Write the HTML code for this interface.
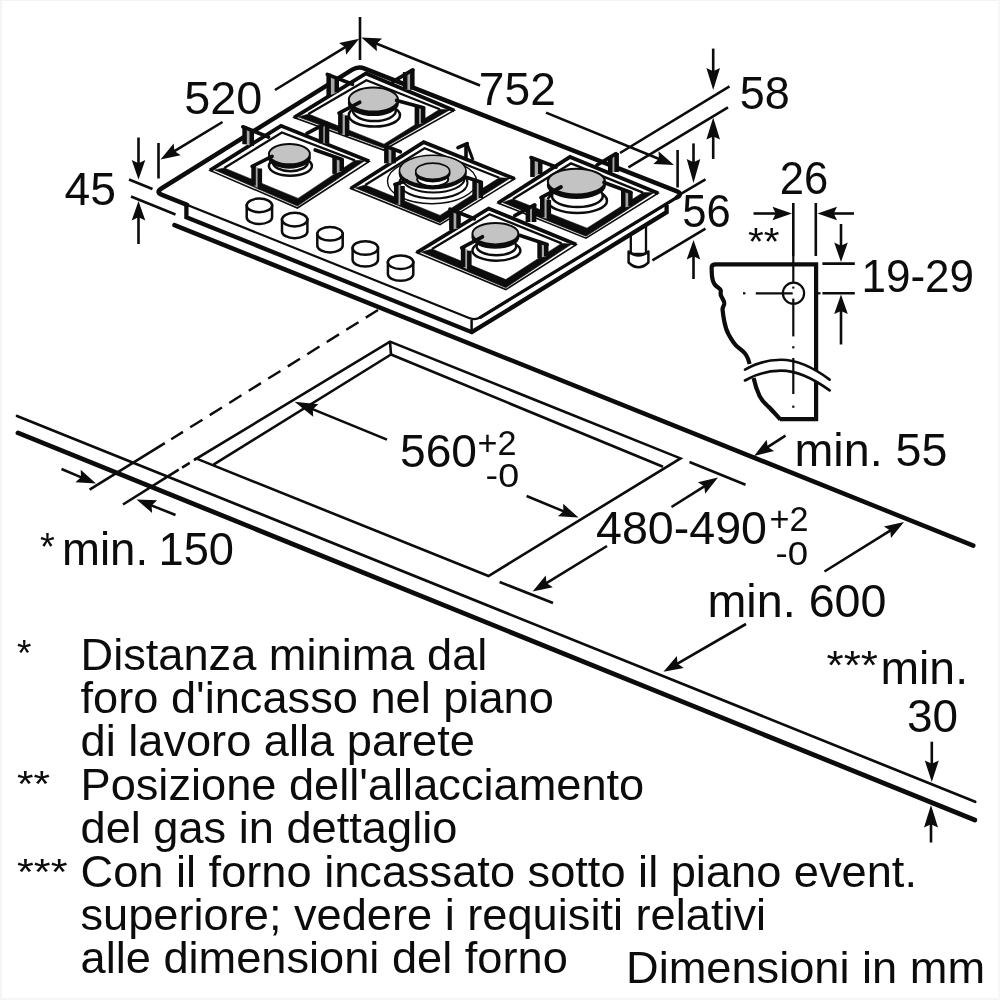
<!DOCTYPE html>
<html><head><meta charset="utf-8"><title>Hob installation diagram</title>
<style>
html,body{margin:0;padding:0;background:#fff;}
body{width:1000px;height:1000px;overflow:hidden;font-family:"Liberation Sans",sans-serif;}
svg{display:block;filter:grayscale(1) blur(0.4px)}
text{font-family:"Liberation Sans",sans-serif;fill:#0c0c0c;}
</style></head><body>
<svg width="1000" height="1000" viewBox="0 0 1000 1000">
<rect width="1000" height="1000" fill="#fff"/>
<rect x="0" y="0" width="2" height="1000" fill="#f5f5f5"/><rect x="0" y="0" width="1000" height="1" fill="#f4f4f4"/><rect x="0" y="998" width="1000" height="2" fill="#f5f5f5"/><rect x="998" y="0" width="2" height="1000" fill="#f8f8f8"/>
<line x1="174.5" y1="225.2" x2="973.3" y2="545.6" stroke="#0c0c0c" stroke-width="4.5" stroke-linecap="round" />
<line x1="17.0" y1="415.9" x2="975.2" y2="801.8" stroke="#0c0c0c" stroke-width="2.7" stroke-linecap="round" />
<line x1="18.0" y1="432.9" x2="974.8" y2="820.0" stroke="#0c0c0c" stroke-width="4.8" stroke-linecap="round" />
<path d="M390.0,341.6 L680.5,458.4 L488.5,576.0 L196.5,458.6 Z" fill="none" stroke="#0c0c0c" stroke-width="2.6" stroke-linejoin="miter" stroke-linecap="butt" />
<line x1="390.0" y1="341.6" x2="391.0" y2="354.5" stroke="#0c0c0c" stroke-width="2.6" stroke-linecap="butt" />
<line x1="391.0" y1="354.5" x2="213.5" y2="464.6" stroke="#0c0c0c" stroke-width="2.6" stroke-linecap="butt" />
<line x1="391.0" y1="354.5" x2="663.0" y2="466.8" stroke="#0c0c0c" stroke-width="2.6" stroke-linecap="butt" />
<line x1="378.0" y1="310.0" x2="171.2" y2="439.2" stroke="#0c0c0c" stroke-width="2.4" stroke-linecap="butt" stroke-dasharray="14.4 8.6"/>
<line x1="164.8" y1="443.2" x2="89.6" y2="489.6" stroke="#0c0c0c" stroke-width="2.6" stroke-linecap="butt" />
<line x1="196.5" y1="458.6" x2="123.0" y2="504.5" stroke="#0c0c0c" stroke-width="2.6" stroke-linecap="butt" stroke-dasharray="3 5 9 4 200"/>
<path d="M630.8,222 L630.8,254 L646,254 L646,222" fill="white" stroke="#0c0c0c" stroke-width="2.3"/>
<path d="M628.6,251.5 L628.6,262.5 Q638.5,272 648.4,262.5 L648.4,251.5 Q638.5,259.5 628.6,251.5 Z" fill="white" stroke="#0c0c0c" stroke-width="2.5" stroke-linejoin="round"/>
<path d="M186.4,204.0 L186.4,217.2 L471.8,332.2 L666.6,212.2 L666.6,205.0" fill="white" stroke="#0c0c0c" stroke-width="4.3" stroke-linejoin="miter" stroke-linecap="butt" />
<path d="M353.1,69.2 Q358.2,66.0 363.8,68.2 L677.4,191.6 Q683.0,193.8 677.9,196.9 L480.4,317.3 Q475.3,320.4 469.7,318.2 L161.1,194.4 Q155.5,192.2 160.6,189.0 Z" fill="white" stroke="#0c0c0c" stroke-width="2.2"/>
<path d="M677.0,197.4 L480.4,317.3" fill="none" stroke="#0c0c0c" stroke-width="3.3" stroke-linecap="round"/>
<path d="M187.1,204.9 L162.0,194.8 Q155.5,192.2 161.4,188.5 L352.3,69.7 Q358.2,66.0 364.7,68.6 L676.5,191.2 Q683,193.8 677.0,197.4" fill="none" stroke="#0c0c0c" stroke-width="4.5" stroke-linecap="round" stroke-linejoin="round"/>
<line x1="471.6" y1="320.0" x2="471.6" y2="332.0" stroke="#0c0c0c" stroke-width="2.5" stroke-linecap="butt" />
<path d="M294.0,117.6 L366.0,73.5 L454.2,110.4 L383.5,150.0 Z" fill="white" stroke="#0c0c0c" stroke-width="1.6" stroke-linejoin="miter" stroke-linecap="butt" />
<path d="M294.0,117.6 L366.0,73.5 L454.2,110.4" fill="none" stroke="#0c0c0c" stroke-width="3.8" stroke-linejoin="miter" stroke-linecap="butt" />
<path d="M308.4,114.0 L366.4,80.3 L439.8,109.2 L384.0,144.2 Z" fill="white" stroke="#0c0c0c" stroke-width="0.1" stroke-linejoin="miter" stroke-linecap="butt" />
<path d="M298.6,117.1 L383.5,148.1 L449.6,109.9 L439.8,109.2 L384.0,144.2 L308.4,114.0 Z" fill="#0c0c0c" stroke="#0c0c0c" stroke-width="0.6" stroke-linejoin="miter"/>
<path d="M308.4,114.0 L366.4,80.3 L439.8,109.2" fill="none" stroke="#0c0c0c" stroke-width="2.3" stroke-linejoin="miter" stroke-linecap="butt" />
<path d="M328.6,73.5 L336.8,77.0 L336.8,92.4 L328.6,96.0 Z" fill="#a8a8a8"/>
<rect x="326.4" y="73.5" width="4.5" height="22.5" fill="#0c0c0c"/>
<rect x="334.5" y="77.0" width="4.5" height="15.4" fill="#0c0c0c"/>
<line x1="327.3" y1="74.4" x2="352.5" y2="84.3" stroke="#0c0c0c" stroke-width="3.7" stroke-linecap="round" />
<path d="M405.1,72.0 L412.4,69.0 L412.4,89.7 L405.1,89.7 Z" fill="#a8a8a8"/>
<rect x="402.9" y="72.0" width="4.5" height="17.7" fill="#0c0c0c"/>
<rect x="410.1" y="69.0" width="4.5" height="20.7" fill="#0c0c0c"/>
<line x1="412.8" y1="69.9" x2="393.0" y2="81.6" stroke="#0c0c0c" stroke-width="3.7" stroke-linecap="round" />
<ellipse cx="374.4" cy="115.2" rx="25.599999999999998" ry="11.4" fill="white" stroke="#0c0c0c" stroke-width="2.5"/>
<ellipse cx="374.4" cy="110.8" rx="21.4" ry="10.2" fill="white" stroke="#0c0c0c" stroke-width="2.5"/>
<ellipse cx="373.4" cy="103.0" rx="24.599999999999998" ry="12.0" fill="#0c0c0c" stroke="#0c0c0c" stroke-width="2"/>
<ellipse cx="373.4" cy="99.6" rx="24.599999999999998" ry="12.0" fill="#c3c3c3" stroke="#0c0c0c" stroke-width="2"/>
<path d="M340.4,113.1 L347.1,115.5 L347.1,136.0 L340.4,133.8 Z" fill="#a8a8a8"/>
<rect x="338.1" y="113.1" width="4.5" height="20.7" fill="#0c0c0c"/>
<rect x="344.9" y="115.5" width="4.5" height="20.5" fill="#0c0c0c"/>
<line x1="339.0" y1="113.1" x2="359.7" y2="102.3" stroke="#0c0c0c" stroke-width="3.7" stroke-linecap="round" />
<path d="M416.9,105.0 L423.1,107.7 L423.1,123.0 L416.9,124.8 Z" fill="#a8a8a8"/>
<rect x="414.6" y="105.0" width="4.5" height="19.8" fill="#0c0c0c"/>
<rect x="420.9" y="107.7" width="4.5" height="15.3" fill="#0c0c0c"/>
<line x1="423.6" y1="107.7" x2="396.6" y2="100.5" stroke="#0c0c0c" stroke-width="3.7" stroke-linecap="round" />
<path d="M210.0,170.4 L281.0,125.8 L369.2,161.3 L297.4,208.0 Z" fill="white" stroke="#0c0c0c" stroke-width="1.6" stroke-linejoin="miter" stroke-linecap="butt" />
<path d="M210.0,170.4 L281.0,125.8 L369.2,161.3" fill="none" stroke="#0c0c0c" stroke-width="3.8" stroke-linejoin="miter" stroke-linecap="butt" />
<path d="M224.3,168.0 L281.9,132.5 L354.8,160.4 L298.1,198.4 Z" fill="white" stroke="#0c0c0c" stroke-width="0.1" stroke-linejoin="miter" stroke-linecap="butt" />
<path d="M214.6,169.9 L297.4,206.1 L364.6,160.8 L354.8,160.4 L298.1,198.4 L224.3,168.0 Z" fill="#0c0c0c" stroke="#0c0c0c" stroke-width="0.6" stroke-linejoin="miter"/>
<path d="M224.3,168.0 L281.9,132.5 L354.8,160.4" fill="none" stroke="#0c0c0c" stroke-width="2.3" stroke-linejoin="miter" stroke-linecap="butt" />
<path d="M244.6,126.2 L251.8,130.0 L251.8,146.0 L244.6,144.2 Z" fill="#a8a8a8"/>
<rect x="242.3" y="126.2" width="4.5" height="18.0" fill="#0c0c0c"/>
<rect x="249.5" y="130.0" width="4.5" height="16.0" fill="#0c0c0c"/>
<line x1="242.9" y1="126.8" x2="268.4" y2="137.0" stroke="#0c0c0c" stroke-width="3.7" stroke-linecap="round" />
<path d="M321.1,126.0 L327.1,122.6 L327.1,143.3 L321.1,143.3 Z" fill="#a8a8a8"/>
<rect x="318.8" y="126.0" width="4.5" height="17.3" fill="#0c0c0c"/>
<rect x="324.8" y="122.6" width="4.5" height="20.7" fill="#0c0c0c"/>
<line x1="326.4" y1="123.2" x2="307.0" y2="133.4" stroke="#0c0c0c" stroke-width="3.7" stroke-linecap="round" />
<ellipse cx="290.4" cy="166.0" rx="21.5" ry="9.7" fill="white" stroke="#0c0c0c" stroke-width="2.5"/>
<ellipse cx="290.4" cy="162.5" rx="17.3" ry="8.7" fill="white" stroke="#0c0c0c" stroke-width="2.5"/>
<ellipse cx="289.4" cy="157.5" rx="20.5" ry="10.200000000000001" fill="#0c0c0c" stroke="#0c0c0c" stroke-width="2"/>
<ellipse cx="289.4" cy="154.1" rx="20.5" ry="10.200000000000001" fill="#c3c3c3" stroke="#0c0c0c" stroke-width="2"/>
<path d="M253.6,165.8 L259.9,168.5 L259.9,189.2 L253.6,185.6 Z" fill="#a8a8a8"/>
<rect x="251.3" y="165.8" width="4.5" height="19.8" fill="#0c0c0c"/>
<rect x="257.6" y="168.5" width="4.5" height="20.7" fill="#0c0c0c"/>
<line x1="252.2" y1="166.4" x2="272.0" y2="156.4" stroke="#0c0c0c" stroke-width="3.7" stroke-linecap="round" />
<path d="M334.6,155.9 L341.8,159.5 L341.8,171.2 L334.6,173.9 Z" fill="#a8a8a8"/>
<rect x="332.3" y="155.9" width="4.5" height="18.0" fill="#0c0c0c"/>
<rect x="339.5" y="159.5" width="4.5" height="11.7" fill="#0c0c0c"/>
<line x1="342.2" y1="159.5" x2="315.2" y2="150.0" stroke="#0c0c0c" stroke-width="3.7" stroke-linecap="round" />
<path d="M498.0,203.0 L570.0,157.0 L658.2,193.2 L586.0,238.2 Z" fill="white" stroke="#0c0c0c" stroke-width="1.6" stroke-linejoin="miter" stroke-linecap="butt" />
<path d="M498.0,203.0 L570.0,157.0 L658.2,193.2" fill="none" stroke="#0c0c0c" stroke-width="3.8" stroke-linejoin="miter" stroke-linecap="butt" />
<path d="M513.0,199.0 L571.0,163.4 L643.0,192.6 L587.0,228.2 Z" fill="white" stroke="#0c0c0c" stroke-width="0.1" stroke-linejoin="miter" stroke-linecap="butt" />
<path d="M502.6,202.5 L586.0,236.3 L653.6,192.7 L643.0,192.6 L587.0,228.2 L513.0,199.0 Z" fill="#0c0c0c" stroke="#0c0c0c" stroke-width="0.6" stroke-linejoin="miter"/>
<path d="M513.0,199.0 L571.0,163.4 L643.0,192.6" fill="none" stroke="#0c0c0c" stroke-width="2.3" stroke-linejoin="miter" stroke-linecap="butt" />
<path d="M532.5,157.0 L540.2,160.5 L540.2,174.0 L532.5,177.0 Z" fill="#a8a8a8"/>
<rect x="530.2" y="157.0" width="4.5" height="20.0" fill="#0c0c0c"/>
<rect x="538.0" y="160.5" width="4.5" height="13.5" fill="#0c0c0c"/>
<line x1="531.0" y1="157.6" x2="556.0" y2="167.0" stroke="#0c0c0c" stroke-width="3.7" stroke-linecap="round" />
<path d="M610.2,156.0 L616.6,153.0 L616.6,172.0 L610.2,172.0 Z" fill="#a8a8a8"/>
<rect x="608.0" y="156.0" width="4.5" height="16.0" fill="#0c0c0c"/>
<rect x="614.4" y="153.0" width="4.5" height="19.0" fill="#0c0c0c"/>
<line x1="616.0" y1="153.6" x2="597.0" y2="165.0" stroke="#0c0c0c" stroke-width="3.7" stroke-linecap="round" />
<ellipse cx="577.4" cy="200.7" rx="29.599999999999998" ry="12.3" fill="white" stroke="#0c0c0c" stroke-width="2.5"/>
<ellipse cx="577.4" cy="196.0" rx="25.4" ry="11.0" fill="white" stroke="#0c0c0c" stroke-width="2.5"/>
<ellipse cx="576.4" cy="185.0" rx="28.599999999999998" ry="12.9" fill="#0c0c0c" stroke="#0c0c0c" stroke-width="2"/>
<ellipse cx="576.4" cy="181.6" rx="28.599999999999998" ry="12.9" fill="#c3c3c3" stroke="#0c0c0c" stroke-width="2"/>
<path d="M542.2,197.0 L548.9,200.0 L548.9,220.0 L542.2,217.0 Z" fill="#a8a8a8"/>
<rect x="540.0" y="197.0" width="4.5" height="20.0" fill="#0c0c0c"/>
<rect x="546.6" y="200.0" width="4.5" height="20.0" fill="#0c0c0c"/>
<line x1="541.0" y1="197.6" x2="561.0" y2="187.0" stroke="#0c0c0c" stroke-width="3.7" stroke-linecap="round" />
<path d="M623.2,189.0 L630.5,192.0 L630.5,206.0 L623.2,208.0 Z" fill="#a8a8a8"/>
<rect x="621.0" y="189.0" width="4.5" height="19.0" fill="#0c0c0c"/>
<rect x="628.2" y="192.0" width="4.5" height="14.0" fill="#0c0c0c"/>
<line x1="631.0" y1="192.4" x2="604.0" y2="182.4" stroke="#0c0c0c" stroke-width="3.7" stroke-linecap="round" />
<path d="M350.8,188.5 L423.7,142.2 L514.6,178.8 L440.0,224.6 Z" fill="white" stroke="#0c0c0c" stroke-width="1.6" stroke-linejoin="miter" stroke-linecap="butt" />
<path d="M350.8,188.5 L423.7,142.2 L514.6,178.8" fill="none" stroke="#0c0c0c" stroke-width="3.8" stroke-linejoin="miter" stroke-linecap="butt" />
<path d="M365.2,185.0 L424.6,148.2 L499.3,177.8 L440.0,215.4 Z" fill="white" stroke="#0c0c0c" stroke-width="0.1" stroke-linejoin="miter" stroke-linecap="butt" />
<path d="M355.4,188.0 L440.0,222.7 L510.0,178.3 L499.3,177.8 L440.0,215.4 L365.2,185.0 Z" fill="#0c0c0c" stroke="#0c0c0c" stroke-width="0.6" stroke-linejoin="miter"/>
<path d="M365.2,185.0 L424.6,148.2 L499.3,177.8" fill="none" stroke="#0c0c0c" stroke-width="2.3" stroke-linejoin="miter" stroke-linecap="butt" />
<path d="M386.4,145.3 L393.6,148.5 L393.6,163.3 L386.4,163.3 Z" fill="#a8a8a8"/>
<rect x="384.1" y="145.3" width="4.5" height="18.0" fill="#0c0c0c"/>
<rect x="391.3" y="148.5" width="4.5" height="14.8" fill="#0c0c0c"/>
<line x1="385.9" y1="146.2" x2="400.3" y2="151.8" stroke="#0c0c0c" stroke-width="3.7" stroke-linecap="round" />
<line x1="466.0" y1="143.8" x2="466.0" y2="159.5" stroke="#0c0c0c" stroke-width="3.6" stroke-linecap="butt" />
<line x1="467.2" y1="144.4" x2="473.0" y2="160.0" stroke="#0c0c0c" stroke-width="3.0" stroke-linecap="butt" />
<line x1="458.0" y1="147.6" x2="467.2" y2="143.6" stroke="#0c0c0c" stroke-width="3.7" stroke-linecap="round" />
<ellipse cx="432" cy="181.3" rx="44.5" ry="22.5" fill="white" stroke="#0c0c0c" stroke-width="1.4"/>
<ellipse cx="433.5" cy="183" rx="34" ry="15.6" fill="white" stroke="#0c0c0c" stroke-width="2"/>
<ellipse cx="433.5" cy="178.5" rx="31" ry="14" fill="white" stroke="#0c0c0c" stroke-width="2"/>
<ellipse cx="432.7" cy="173.3" rx="33.3" ry="15.3" fill="#0c0c0c" stroke="#0c0c0c" stroke-width="1.6"/>
<ellipse cx="432.7" cy="170.5" rx="33.3" ry="15.3" fill="#c3c3c3" stroke="#0c0c0c" stroke-width="1.6"/>
<ellipse cx="432.7" cy="179.2" rx="15.5" ry="7" fill="white" stroke="#0c0c0c" stroke-width="2"/>
<ellipse cx="432.7" cy="173.6" rx="17" ry="8.1" fill="#0c0c0c" stroke="#0c0c0c" stroke-width="1.6"/>
<ellipse cx="432.7" cy="171.2" rx="17" ry="8.1" fill="#c3c3c3" stroke="#0c0c0c" stroke-width="1.6"/>
<path d="M396.2,184.0 L402.6,186.0 L402.6,206.0 L396.2,203.8 Z" fill="#a8a8a8"/>
<rect x="394.0" y="184.0" width="4.5" height="19.8" fill="#0c0c0c"/>
<rect x="400.3" y="186.0" width="4.5" height="20.0" fill="#0c0c0c"/>
<line x1="394.9" y1="184.4" x2="406.6" y2="180.8" stroke="#0c0c0c" stroke-width="3.7" stroke-linecap="round" />
<path d="M474.6,179.5 L480.9,182.2 L480.9,198.0 L474.6,200.2 Z" fill="#a8a8a8"/>
<rect x="472.3" y="179.5" width="4.5" height="20.7" fill="#0c0c0c"/>
<rect x="478.6" y="182.2" width="4.5" height="15.8" fill="#0c0c0c"/>
<line x1="481.3" y1="182.2" x2="466.0" y2="177.2" stroke="#0c0c0c" stroke-width="3.7" stroke-linecap="round" />
<path d="M416.7,252.6 L488.7,208.5 L576.2,244.6 L505.8,289.6 Z" fill="white" stroke="#0c0c0c" stroke-width="1.6" stroke-linejoin="miter" stroke-linecap="butt" />
<path d="M416.7,252.6 L488.7,208.5 L576.2,244.6" fill="none" stroke="#0c0c0c" stroke-width="3.8" stroke-linejoin="miter" stroke-linecap="butt" />
<path d="M432.0,249.0 L489.6,214.2 L561.6,243.4 L505.8,279.6 Z" fill="white" stroke="#0c0c0c" stroke-width="0.1" stroke-linejoin="miter" stroke-linecap="butt" />
<path d="M421.3,252.1 L505.8,287.7 L571.6,244.1 L561.6,243.4 L505.8,279.6 L432.0,249.0 Z" fill="#0c0c0c" stroke="#0c0c0c" stroke-width="0.6" stroke-linejoin="miter"/>
<path d="M432.0,249.0 L489.6,214.2 L561.6,243.4" fill="none" stroke="#0c0c0c" stroke-width="2.3" stroke-linejoin="miter" stroke-linecap="butt" />
<path d="M451.4,208.5 L458.6,212.0 L458.6,228.0 L451.4,230.1 Z" fill="#a8a8a8"/>
<rect x="449.1" y="208.5" width="4.5" height="21.6" fill="#0c0c0c"/>
<rect x="456.3" y="212.0" width="4.5" height="16.0" fill="#0c0c0c"/>
<line x1="450.0" y1="209.2" x2="474.3" y2="218.8" stroke="#0c0c0c" stroke-width="3.7" stroke-linecap="round" />
<path d="M527.9,207.0 L534.1,204.0 L534.1,222.0 L527.9,222.0 Z" fill="#a8a8a8"/>
<rect x="525.6" y="207.0" width="4.5" height="15.0" fill="#0c0c0c"/>
<rect x="531.9" y="204.0" width="4.5" height="18.0" fill="#0c0c0c"/>
<line x1="534.6" y1="204.9" x2="514.8" y2="215.7" stroke="#0c0c0c" stroke-width="3.7" stroke-linecap="round" />
<ellipse cx="496.4" cy="250.5" rx="24.0" ry="10.2" fill="white" stroke="#0c0c0c" stroke-width="2.5"/>
<ellipse cx="496.4" cy="246.2" rx="19.8" ry="9.1" fill="white" stroke="#0c0c0c" stroke-width="2.5"/>
<ellipse cx="495.4" cy="237.1" rx="23.0" ry="10.700000000000001" fill="#0c0c0c" stroke="#0c0c0c" stroke-width="2"/>
<ellipse cx="495.4" cy="233.7" rx="23.0" ry="10.700000000000001" fill="#c3c3c3" stroke="#0c0c0c" stroke-width="2"/>
<path d="M463.1,247.2 L469.4,250.8 L469.4,270.6 L463.1,267.0 Z" fill="#a8a8a8"/>
<rect x="460.8" y="247.2" width="4.5" height="19.8" fill="#0c0c0c"/>
<rect x="467.1" y="250.8" width="4.5" height="19.8" fill="#0c0c0c"/>
<line x1="461.7" y1="247.8" x2="482.4" y2="236.8" stroke="#0c0c0c" stroke-width="3.7" stroke-linecap="round" />
<path d="M539.5,240.9 L546.2,244.5 L546.2,256.2 L539.5,258.0 Z" fill="#a8a8a8"/>
<rect x="537.3" y="240.9" width="4.5" height="17.1" fill="#0c0c0c"/>
<rect x="544.0" y="244.5" width="4.5" height="11.7" fill="#0c0c0c"/>
<line x1="547.2" y1="244.5" x2="520.2" y2="235.5" stroke="#0c0c0c" stroke-width="3.7" stroke-linecap="round" />
<path d="M246.7,205.4 L246.7,217.20000000000002 A12.7,6.8 0 0 0 272.09999999999997,217.20000000000002 L272.09999999999997,205.4 Z" fill="white" stroke="#0c0c0c" stroke-width="2.5"/>
<ellipse cx="259.4" cy="205.4" rx="12.7" ry="6.8" fill="white" stroke="#0c0c0c" stroke-width="2.5"/>
<path d="M282.0,219.6 L282.0,231.4 A12.7,6.8 0 0 0 307.4,231.4 L307.4,219.6 Z" fill="white" stroke="#0c0c0c" stroke-width="2.5"/>
<ellipse cx="294.7" cy="219.6" rx="12.7" ry="6.8" fill="white" stroke="#0c0c0c" stroke-width="2.5"/>
<path d="M317.3,233.8 L317.3,245.60000000000002 A12.7,6.8 0 0 0 342.7,245.60000000000002 L342.7,233.8 Z" fill="white" stroke="#0c0c0c" stroke-width="2.5"/>
<ellipse cx="330.0" cy="233.8" rx="12.7" ry="6.8" fill="white" stroke="#0c0c0c" stroke-width="2.5"/>
<path d="M352.59999999999997,248.0 L352.59999999999997,259.8 A12.7,6.8 0 0 0 377.99999999999994,259.8 L377.99999999999994,248.0 Z" fill="white" stroke="#0c0c0c" stroke-width="2.5"/>
<ellipse cx="365.29999999999995" cy="248.0" rx="12.7" ry="6.8" fill="white" stroke="#0c0c0c" stroke-width="2.5"/>
<path d="M387.9,262.2 L387.9,274.0 A12.7,6.8 0 0 0 413.29999999999995,274.0 L413.29999999999995,262.2 Z" fill="white" stroke="#0c0c0c" stroke-width="2.5"/>
<ellipse cx="400.59999999999997" cy="262.2" rx="12.7" ry="6.8" fill="white" stroke="#0c0c0c" stroke-width="2.5"/>
<line x1="138.5" y1="137.5" x2="138.5" y2="164.2" stroke="#0c0c0c" stroke-width="2.6" stroke-linecap="butt" />
<path d="M138.5,179.5 L131.7,160.0 L138.5,163.2 L145.3,160.0 Z" fill="#0c0c0c"/>
<line x1="138.5" y1="244.0" x2="138.5" y2="216.3" stroke="#0c0c0c" stroke-width="2.6" stroke-linecap="butt" />
<path d="M138.5,201.0 L145.3,220.5 L138.5,217.3 L131.7,220.5 Z" fill="#0c0c0c"/>
<line x1="129.0" y1="179.5" x2="152.5" y2="189.0" stroke="#0c0c0c" stroke-width="2.6" stroke-linecap="butt" />
<line x1="131.0" y1="196.5" x2="175.5" y2="214.5" stroke="#0c0c0c" stroke-width="2.6" stroke-linecap="butt" />
<line x1="158.5" y1="143.0" x2="158.5" y2="178.5" stroke="#0c0c0c" stroke-width="2.6" stroke-linecap="butt" />
<line x1="222.5" y1="122.0" x2="173.6" y2="151.6" stroke="#0c0c0c" stroke-width="2.6" stroke-linecap="butt" />
<path d="M160.5,159.5 L173.7,143.6 L174.4,151.1 L180.7,155.2 Z" fill="#0c0c0c"/>
<line x1="275.0" y1="90.0" x2="346.1" y2="46.7" stroke="#0c0c0c" stroke-width="2.6" stroke-linecap="butt" />
<path d="M359.2,38.8 L346.1,54.7 L345.3,47.3 L339.0,43.1 Z" fill="#0c0c0c"/>
<line x1="360.0" y1="17.0" x2="360.0" y2="60.0" stroke="#0c0c0c" stroke-width="2.6" stroke-linecap="butt" />
<line x1="480.0" y1="85.5" x2="375.6" y2="43.3" stroke="#0c0c0c" stroke-width="2.6" stroke-linecap="butt" />
<path d="M361.4,37.6 L382.0,38.6 L376.5,43.7 L376.9,51.2 Z" fill="#0c0c0c"/>
<line x1="546.0" y1="112.6" x2="659.8" y2="159.2" stroke="#0c0c0c" stroke-width="2.6" stroke-linecap="butt" />
<path d="M674.0,165.0 L653.4,163.9 L658.9,158.8 L658.5,151.3 Z" fill="#0c0c0c"/>
<line x1="677.6" y1="150.0" x2="677.6" y2="187.5" stroke="#0c0c0c" stroke-width="2.6" stroke-linecap="butt" />
<line x1="713.2" y1="48.6" x2="713.2" y2="72.2" stroke="#0c0c0c" stroke-width="2.6" stroke-linecap="butt" />
<path d="M713.2,90.0 L706.4,68.0 L713.2,71.2 L720.0,68.0 Z" fill="#0c0c0c"/>
<line x1="713.2" y1="159.0" x2="713.2" y2="135.4" stroke="#0c0c0c" stroke-width="2.6" stroke-linecap="butt" />
<path d="M713.2,117.6 L720.0,139.6 L713.2,136.4 L706.4,139.6 Z" fill="#0c0c0c"/>
<line x1="620.0" y1="153.0" x2="729.5" y2="86.4" stroke="#0c0c0c" stroke-width="2.6" stroke-linecap="butt" />
<line x1="628.4" y1="167.4" x2="728.0" y2="107.4" stroke="#0c0c0c" stroke-width="2.6" stroke-linecap="butt" />
<line x1="693.5" y1="143.4" x2="693.5" y2="163.2" stroke="#0c0c0c" stroke-width="2.6" stroke-linecap="butt" />
<path d="M693.5,183.0 L686.7,159.0 L693.5,162.2 L700.3,159.0 Z" fill="#0c0c0c"/>
<line x1="693.5" y1="279.0" x2="693.5" y2="255.3" stroke="#0c0c0c" stroke-width="2.6" stroke-linecap="butt" />
<path d="M693.5,240.0 L700.3,259.5 L693.5,256.3 L686.7,259.5 Z" fill="#0c0c0c"/>
<line x1="680.0" y1="194.4" x2="705.5" y2="179.4" stroke="#0c0c0c" stroke-width="2.6" stroke-linecap="butt" />
<line x1="652.4" y1="260.4" x2="705.5" y2="228.6" stroke="#0c0c0c" stroke-width="2.6" stroke-linecap="butt" />
<line x1="387.0" y1="439.6" x2="311.9" y2="408.9" stroke="#0c0c0c" stroke-width="2.6" stroke-linecap="butt" />
<path d="M294.5,401.8 L318.4,404.2 L312.8,409.3 L313.2,416.8 Z" fill="#0c0c0c"/>
<line x1="526.6" y1="496.0" x2="564.4" y2="511.6" stroke="#0c0c0c" stroke-width="2.6" stroke-linecap="butt" />
<path d="M578.5,517.5 L557.9,516.3 L563.4,511.3 L563.1,503.8 Z" fill="#0c0c0c"/>
<line x1="689.5" y1="462.0" x2="745.5" y2="484.8" stroke="#0c0c0c" stroke-width="2.6" stroke-linecap="butt" />
<line x1="499.6" y1="582.0" x2="553.0" y2="603.0" stroke="#0c0c0c" stroke-width="2.6" stroke-linecap="butt" />
<line x1="671.5" y1="507.0" x2="705.1" y2="485.8" stroke="#0c0c0c" stroke-width="2.6" stroke-linecap="butt" />
<path d="M718.0,477.6 L705.2,493.8 L704.2,486.3 L697.9,482.3 Z" fill="#0c0c0c"/>
<line x1="607.0" y1="546.0" x2="545.6" y2="583.6" stroke="#0c0c0c" stroke-width="2.6" stroke-linecap="butt" />
<path d="M532.6,591.6 L545.7,575.6 L546.5,583.1 L552.8,587.2 Z" fill="#0c0c0c"/>
<line x1="785.5" y1="435.6" x2="766.8" y2="447.7" stroke="#0c0c0c" stroke-width="2.6" stroke-linecap="butt" />
<path d="M754.0,456.0 L766.7,439.7 L767.7,447.1 L774.1,451.1 Z" fill="#0c0c0c"/>
<line x1="824.5" y1="571.5" x2="891.0" y2="530.1" stroke="#0c0c0c" stroke-width="2.6" stroke-linecap="butt" />
<path d="M904.0,522.0 L891.0,538.1 L890.2,530.6 L883.9,526.5 Z" fill="#0c0c0c"/>
<line x1="746.0" y1="624.0" x2="676.6" y2="664.1" stroke="#0c0c0c" stroke-width="2.6" stroke-linecap="butt" />
<path d="M663.4,671.8 L676.9,656.1 L677.5,663.6 L683.7,667.9 Z" fill="#0c0c0c"/>
<line x1="61.5" y1="469.0" x2="81.9" y2="477.6" stroke="#0c0c0c" stroke-width="2.6" stroke-linecap="butt" />
<path d="M96.0,483.5 L75.4,482.2 L81.0,477.2 L80.7,469.7 Z" fill="#0c0c0c"/>
<line x1="175.5" y1="515.0" x2="150.7" y2="505.1" stroke="#0c0c0c" stroke-width="2.6" stroke-linecap="butt" />
<path d="M136.5,499.4 L157.1,500.3 L151.6,505.5 L152.1,513.0 Z" fill="#0c0c0c"/>
<line x1="931.8" y1="741.7" x2="931.8" y2="764.7" stroke="#0c0c0c" stroke-width="2.6" stroke-linecap="butt" />
<path d="M931.8,782.0 L924.8,760.5 L931.8,763.7 L938.8,760.5 Z" fill="#0c0c0c"/>
<line x1="931.0" y1="842.5" x2="931.0" y2="823.3" stroke="#0c0c0c" stroke-width="2.6" stroke-linecap="butt" />
<path d="M931.0,805.0 L938.0,827.5 L931.0,824.3 L924.0,827.5 Z" fill="#0c0c0c"/>
<path d="M780,419.2 L816.1,419.2 L816.1,264.4 L715,264.4 Q711.5,264.6 711.6,268 L711.8,273.4 C712,279 713,282 714.6,284.4 C717,287.5 720.5,288 720.8,290.5 C721,292.5 719.8,293.5 721.4,296.5 C722.5,299 724.6,301 724.2,304 C723.8,306.5 722.3,307 722.6,310 C723,314 723.6,318 724.4,322 C725.4,327 726.6,331 728.8,334.8 C731,338.8 733,342.5 736,345.4 C739,348.4 742.5,350.5 745,353.5 C747.3,356.3 748.6,360 749.6,364" fill="none" stroke="#0c0c0c" stroke-width="4.2" stroke-linejoin="miter"/>
<path d="M753.6,378 C755,384.5 757,390.5 759.5,395.8 C762,401 765,403.5 768.4,406.6 C772,410 776,415 780.4,419.4" fill="none" stroke="#0c0c0c" stroke-width="4.2"/>
<path d="M745,369.7 C758,362 770,359.8 781,359.8 C798,359.8 814,368 829.6,379.6 L829.6,390.4 C814,379 798,370.6 781,370.6 C770,370.6 758,373 745,380.5 Z" fill="white" stroke="none"/>
<path d="M745,369.7 C758,362 770,359.8 781,359.8 C798,359.8 814,368 829.6,379.6" fill="none" stroke="#0c0c0c" stroke-width="2.6" stroke-linecap="round"/>
<path d="M745,380.5 C758,373 770,370.6 781,370.6 C798,370.6 814,379 829.6,390.4" fill="none" stroke="#0c0c0c" stroke-width="2.6" stroke-linecap="round"/>
<circle cx="793.5" cy="293.3" r="10.6" fill="none" stroke="#0c0c0c" stroke-width="2.2"/>
<line x1="793.3" y1="203.0" x2="793.3" y2="256.0" stroke="#0c0c0c" stroke-width="2.6" stroke-linecap="butt" />
<line x1="815.8" y1="203.0" x2="815.8" y2="256.0" stroke="#0c0c0c" stroke-width="2.6" stroke-linecap="butt" />
<line x1="793.3" y1="256.0" x2="793.3" y2="282.4" stroke="#0c0c0c" stroke-width="2.2" stroke-linecap="butt" />
<line x1="793.3" y1="286.6" x2="793.3" y2="288.6" stroke="#0c0c0c" stroke-width="2.2" stroke-linecap="butt" />
<line x1="793.3" y1="298.6" x2="793.3" y2="336.4" stroke="#0c0c0c" stroke-width="2.2" stroke-linecap="butt" />
<line x1="793.3" y1="346.2" x2="793.3" y2="348.4" stroke="#0c0c0c" stroke-width="2.2" stroke-linecap="butt" />
<line x1="793.3" y1="358.0" x2="793.3" y2="394.0" stroke="#0c0c0c" stroke-width="2.2" stroke-linecap="butt" />
<line x1="793.3" y1="405.6" x2="793.3" y2="407.8" stroke="#0c0c0c" stroke-width="2.2" stroke-linecap="butt" />
<line x1="743.0" y1="293.3" x2="745.4" y2="293.3" stroke="#0c0c0c" stroke-width="2.2" stroke-linecap="butt" />
<line x1="755.8" y1="293.3" x2="792.7" y2="293.3" stroke="#0c0c0c" stroke-width="2.2" stroke-linecap="butt" />
<line x1="818.0" y1="293.3" x2="820.5" y2="293.3" stroke="#0c0c0c" stroke-width="2.2" stroke-linecap="butt" />
<line x1="753.5" y1="213.5" x2="776.7" y2="213.5" stroke="#0c0c0c" stroke-width="2.6" stroke-linecap="butt" />
<path d="M792.0,213.5 L772.5,220.3 L775.7,213.5 L772.5,206.7 Z" fill="#0c0c0c"/>
<line x1="854.0" y1="213.5" x2="832.8" y2="213.5" stroke="#0c0c0c" stroke-width="2.6" stroke-linecap="butt" />
<path d="M817.5,213.5 L837.0,206.7 L833.8,213.5 L837.0,220.3 Z" fill="#0c0c0c"/>
<line x1="822.4" y1="263.6" x2="854.8" y2="263.6" stroke="#0c0c0c" stroke-width="2.6" stroke-linecap="butt" />
<line x1="822.4" y1="293.3" x2="854.8" y2="293.3" stroke="#0c0c0c" stroke-width="2.6" stroke-linecap="butt" />
<line x1="841.0" y1="224.0" x2="841.0" y2="246.7" stroke="#0c0c0c" stroke-width="2.6" stroke-linecap="butt" />
<path d="M841.0,262.0 L834.2,242.5 L841.0,245.7 L847.8,242.5 Z" fill="#0c0c0c"/>
<line x1="841.0" y1="344.5" x2="841.0" y2="309.9" stroke="#0c0c0c" stroke-width="2.6" stroke-linecap="butt" />
<path d="M841.0,294.6 L847.8,314.1 L841.0,310.9 L834.2,314.1 Z" fill="#0c0c0c"/>
<text x="184.3" y="114.4" font-size="46.3" text-anchor="start" textLength="78" lengthAdjust="spacingAndGlyphs">520</text>
<text x="64.5" y="205" font-size="46.3" text-anchor="start" textLength="51.5" lengthAdjust="spacingAndGlyphs">45</text>
<text x="478.8" y="104.5" font-size="46.3" text-anchor="start" textLength="77" lengthAdjust="spacingAndGlyphs">752</text>
<text x="739.8" y="108.5" font-size="46.3" text-anchor="start" textLength="50" lengthAdjust="spacingAndGlyphs">58</text>
<text x="682.3" y="226.5" font-size="46.3" text-anchor="start" textLength="48.5" lengthAdjust="spacingAndGlyphs">56</text>
<text x="779.8" y="193.5" font-size="46.3" text-anchor="start" textLength="48.5" lengthAdjust="spacingAndGlyphs">26</text>
<text x="861.5" y="291.5" font-size="46.3" text-anchor="start" textLength="112.5" lengthAdjust="spacingAndGlyphs">19-29</text>
<text x="748" y="255" font-size="38" text-anchor="start" textLength="31.5" lengthAdjust="spacingAndGlyphs">**</text>
<text x="400" y="467" font-size="46.3" text-anchor="start" textLength="77" lengthAdjust="spacingAndGlyphs">560</text>
<text x="477.5" y="455.3" font-size="34.5" text-anchor="start" textLength="39" lengthAdjust="spacingAndGlyphs">+2</text>
<text x="485.6" y="486.8" font-size="34" text-anchor="start" textLength="33.5" lengthAdjust="spacingAndGlyphs">-0</text>
<text x="596" y="543.5" font-size="46.3" text-anchor="start" textLength="171" lengthAdjust="spacingAndGlyphs">480-490</text>
<text x="769.5" y="531.4" font-size="34.5" text-anchor="start" textLength="39" lengthAdjust="spacingAndGlyphs">+2</text>
<text x="775.5" y="565.2" font-size="34" text-anchor="start" textLength="32.5" lengthAdjust="spacingAndGlyphs">-0</text>
<text x="794.5" y="465.5" font-size="46.3" text-anchor="start" textLength="153" lengthAdjust="spacingAndGlyphs">min. 55</text>
<text x="707.5" y="616.5" font-size="46.3" text-anchor="start" textLength="179" lengthAdjust="spacingAndGlyphs">min. 600</text>
<text x="40" y="560" font-size="38" text-anchor="start">*</text>
<text x="62" y="564.7" font-size="45.6" text-anchor="start">min.</text>
<text x="158.5" y="564.7" font-size="46.3" text-anchor="start" textLength="75.5" lengthAdjust="spacingAndGlyphs">150</text>
<text x="826.5" y="679" font-size="40" text-anchor="start" textLength="51.5" lengthAdjust="spacingAndGlyphs">***</text>
<text x="880.5" y="684.3" font-size="46" text-anchor="start" textLength="87.5" lengthAdjust="spacingAndGlyphs">min.</text>
<text x="907" y="732" font-size="46" text-anchor="start" textLength="51" lengthAdjust="spacingAndGlyphs">30</text>
<text x="80.5" y="670" font-size="45.2" text-anchor="start">Distanza minima dal</text>
<text x="80.5" y="712.6" font-size="45.2" text-anchor="start">foro d'incasso nel piano</text>
<text x="80.5" y="755.5" font-size="45.2" text-anchor="start">di lavoro alla parete</text>
<text x="80.5" y="799.5" font-size="45.2" text-anchor="start">Posizione dell'allacciamento</text>
<text x="80.5" y="843.2" font-size="45.2" text-anchor="start">del gas in dettaglio</text>
<text x="80.5" y="886.8" font-size="45.2" text-anchor="start">Con il forno incassato sotto il piano event.</text>
<text x="80.5" y="929.8" font-size="45.2" text-anchor="start">superiore; vedere i requisiti relativi</text>
<text x="80.5" y="973.2" font-size="45.2" text-anchor="start">alle dimensioni del forno</text>
<text x="17" y="666" font-size="37" text-anchor="start">*</text>
<text x="17" y="796.5" font-size="37" text-anchor="start" textLength="33" lengthAdjust="spacingAndGlyphs">**</text>
<text x="17" y="884.7" font-size="37" text-anchor="start" textLength="50.5" lengthAdjust="spacingAndGlyphs">***</text>
<text x="626" y="982.5" font-size="45.2" text-anchor="start">Dimensioni in mm</text>
</svg>
</body></html>
